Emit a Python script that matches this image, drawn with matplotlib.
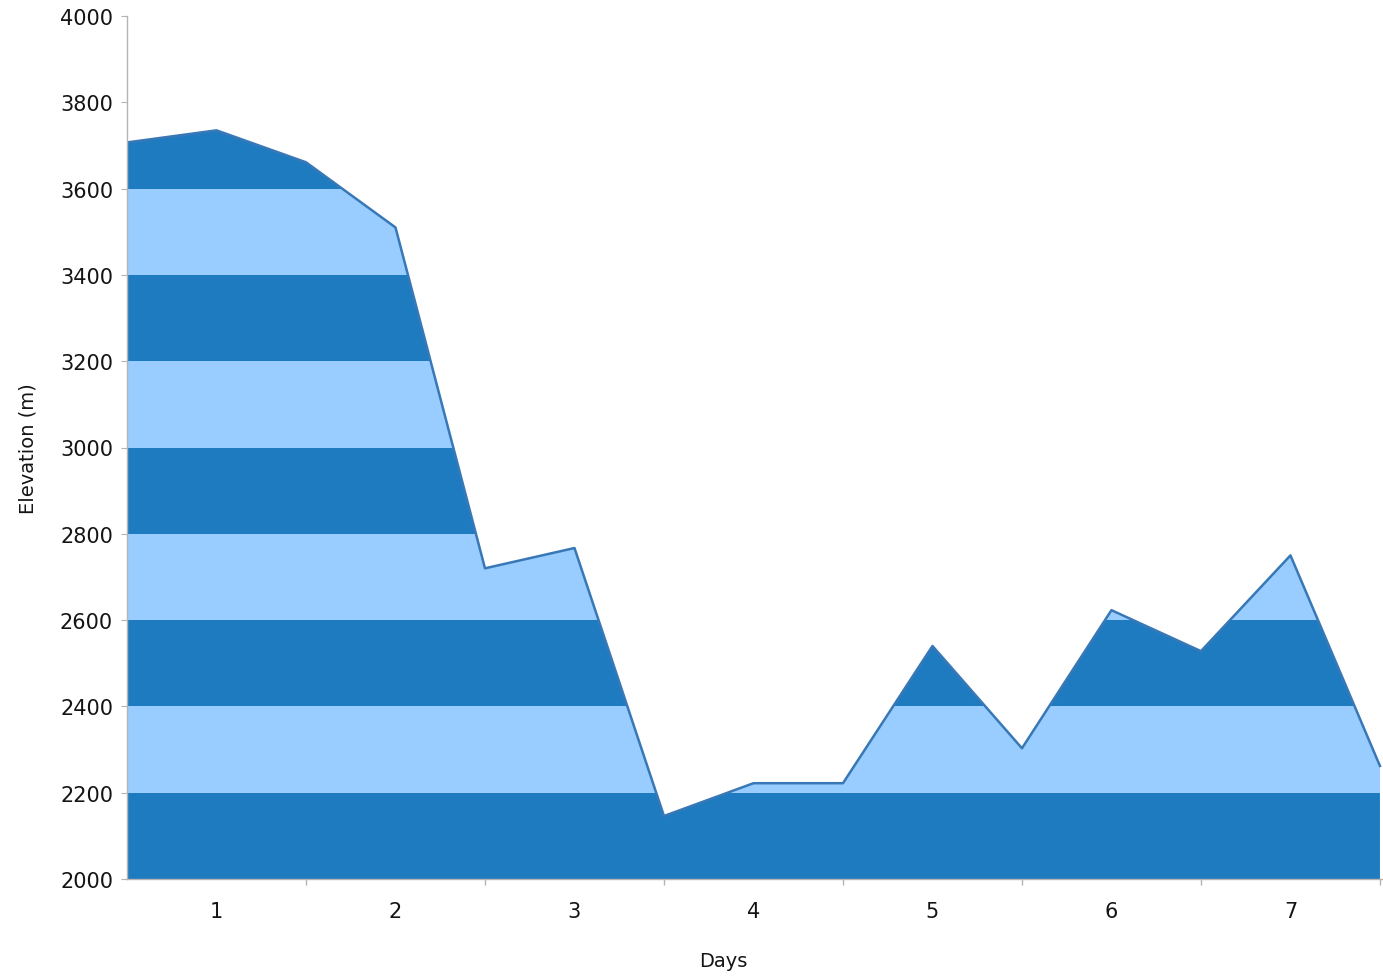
import numpy as np
import matplotlib
matplotlib.use('agg')
import matplotlib.pyplot as plt
from matplotlib.patches import Polygon

# elevation profile, one point every half day
days = [0.5, 1, 1.5, 2, 2.5, 3, 3.5, 4, 4.5, 5, 5.5, 6, 6.5, 7, 7.5]
elev = [3707, 3735, 3661, 3510, 2720, 2767, 2146, 2222, 2222, 2540, 2303, 2623, 2528, 2750, 2262]
day_labels = ['1', '2', '3', '4', '5', '6', '7']
band_edges = [2000, 2200, 2400, 2600, 2800, 3000, 3200, 3400, 3600, 3800, 4000]

dark = '#1f7bbf'
light = '#99ccff'
line_col = '#3878b6'
grey = '#b4b4b4'
txt = '#141414'

fig = plt.figure(figsize=(13.83, 9.78), dpi=100)
ax = fig.add_axes([127/1383, 98/978, 1256/1383, 863/978])

x = np.array(days)
y = np.array(elev)
ymin = band_edges[0]

# area polygon used as clip path for the stripes
verts = [(x[0], ymin)] + list(zip(x, y)) + [(x[-1], ymin)]
poly = Polygon(verts, closed=True, facecolor='none', edgecolor='none')
ax.add_patch(poly)

for i in range(len(band_edges) - 1):
    col = dark if i % 2 == 0 else light
    span = ax.axhspan(band_edges[i], band_edges[i+1], color=col, lw=0, zorder=1)
    span.set_clip_path(poly)

ax.plot(x, y, color=line_col, lw=1.8, zorder=3)

ax.set_xlim(0.5, 7.517)
ax.set_ylim(2000, 4000)
ax.set_yticks(band_edges)
ax.set_xticks(range(1, 8))
ax.set_xticklabels(day_labels)
ax.set_xticks(np.arange(1.5, 8, 1), minor=True)

for s in ['top', 'right']:
    ax.spines[s].set_visible(False)
for s in ['left', 'bottom']:
    ax.spines[s].set_color(grey)
    ax.spines[s].set_linewidth(1.0)
    ax.spines[s].set_zorder(4)

ax.tick_params(axis='x', which='major', length=0, pad=16, labelsize=15, labelcolor=txt)
ax.tick_params(axis='x', which='minor', length=4, color=grey, width=1)
ax.tick_params(axis='y', length=4, color=grey, pad=6, labelsize=15, labelcolor=txt)

ax.set_xlabel('Days', fontsize=14, labelpad=16, color=txt)
ax.xaxis.set_label_coords(0.475, -0.083)
ax.set_ylabel('Elevation (m)', fontsize=14, labelpad=16, color=txt)

fig.savefig('out.png', dpi=100)
